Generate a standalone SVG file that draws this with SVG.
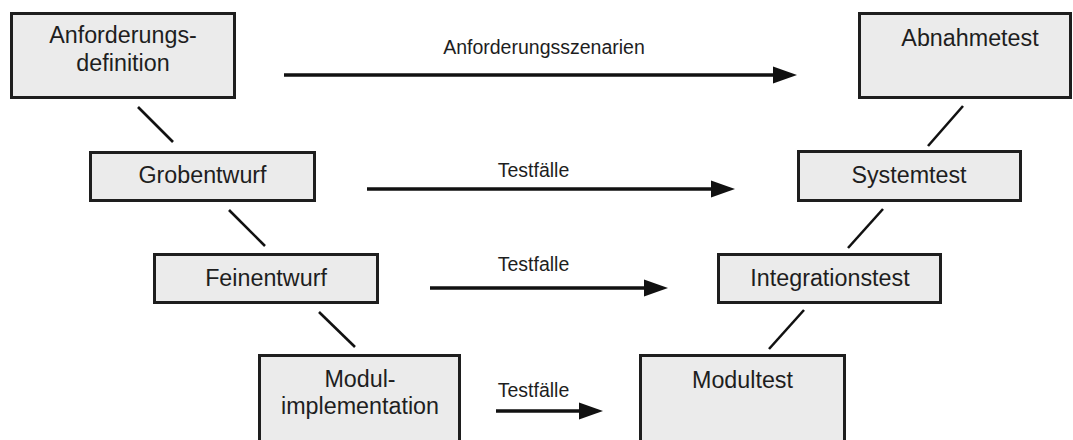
<svg xmlns="http://www.w3.org/2000/svg" width="1073" height="440" viewBox="0 0 1073 440">
<style>
.box{fill:#ebebeb;stroke:#1e1e1e;stroke-width:3}
.t{font-family:"Liberation Sans",Arial,sans-serif;font-size:23.3px;fill:#1e1e1e;text-anchor:middle}
.l{font-family:"Liberation Sans",Arial,sans-serif;font-size:19.5px;fill:#1e1e1e;text-anchor:middle}
.c{stroke:#111;stroke-width:2.6;fill:none}
.a{stroke:#111;stroke-width:3.6;fill:none;marker-end:url(#ah)}
</style>
<defs>
<marker id="ah" markerUnits="userSpaceOnUse" markerWidth="24" markerHeight="17" refX="0" refY="8.5" orient="auto" overflow="visible">
<path d="M0,0 L24,8.5 L0,17 z" fill="#111"/>
</marker>
</defs>
<rect width="1073" height="440" fill="#ffffff"/>
<g id="anforderungsdefinition">
<rect class="box" x="11.5" y="13.5" width="223" height="84"/>
<text class="t" x="123" y="43">Anforderungs-</text>
<text class="t" x="123" y="71">definition</text>
</g>
<g id="grobentwurf">
<rect class="box" x="90.5" y="152.5" width="224" height="48"/>
<text class="t" x="202.5" y="183">Grobentwurf</text>
</g>
<g id="feinentwurf">
<rect class="box" x="154.5" y="254.5" width="223" height="48"/>
<text class="t" x="266" y="286">Feinentwurf</text>
</g>
<g id="modulimplementation">
<rect class="box" x="259.5" y="355.5" width="200" height="100"/>
<text class="t" x="360" y="387">Modul-</text>
<text class="t" x="360" y="414">implementation</text>
</g>
<g id="abnahmetest">
<rect class="box" x="859.5" y="13.5" width="211" height="84"/>
<text class="t" x="970" y="46">Abnahmetest</text>
</g>
<g id="systemtest">
<rect class="box" x="798.5" y="151.5" width="222" height="49"/>
<text class="t" x="909" y="183">Systemtest</text>
</g>
<g id="integrationstest">
<rect class="box" x="718.5" y="254.5" width="222" height="48"/>
<text class="t" x="830" y="286">Integrationstest</text>
</g>
<g id="modultest">
<rect class="box" x="640.5" y="355.5" width="204" height="100"/>
<text class="t" x="742.5" y="388">Modultest</text>
</g>
<g id="connectors">
<line class="c" x1="138" y1="107" x2="173" y2="142"/>
<line class="c" x1="229" y1="210" x2="265" y2="246"/>
<line class="c" x1="319" y1="312" x2="355" y2="347"/>
<line class="c" x1="963" y1="106" x2="928" y2="146"/>
<line class="c" x1="883" y1="209" x2="848" y2="248"/>
<line class="c" x1="804" y1="310" x2="769" y2="349"/>
<line class="a" x1="284" y1="75" x2="773" y2="75"/>
<text class="l" x="544" y="54">Anforderungsszenarien</text>
<line class="a" x1="367" y1="189" x2="711" y2="189"/>
<text class="l" x="533.5" y="177">Testfälle</text>
<line class="a" x1="430" y1="288" x2="644" y2="288"/>
<text class="l" x="533.5" y="271">Testfalle</text>
<line class="a" x1="496" y1="411" x2="579" y2="411"/>
<text class="l" x="533.5" y="397">Testfälle</text>
</g>
</svg>
